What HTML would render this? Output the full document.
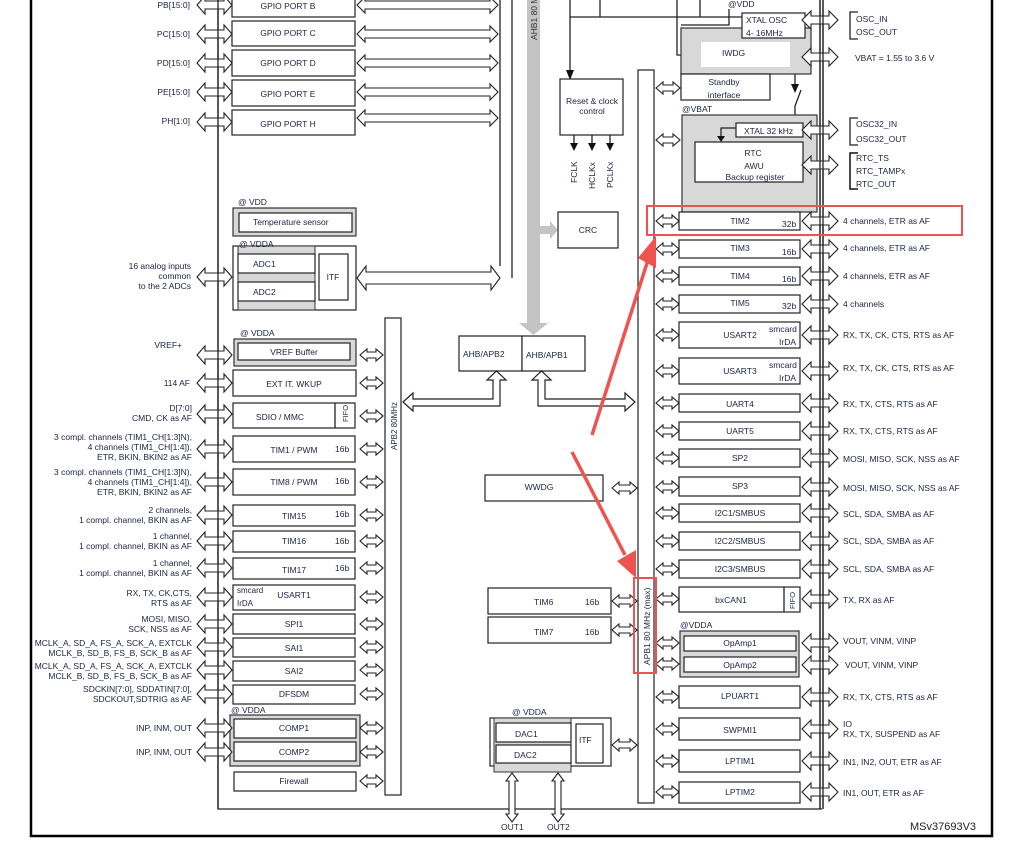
<!DOCTYPE html>
<html><head><meta charset="utf-8"><style>
html,body{margin:0;padding:0;background:#fff;}
svg{display:block;}
text{font-family:"Liberation Sans",Arial,sans-serif;font-size:8.5px;fill:#1b2340;}
.c{text-anchor:middle;}
.r{text-anchor:end;}
.b{fill:#fff;stroke:#222;stroke-width:1.2;}
.g{fill:#d8d8d8;stroke:#333;stroke-width:1.2;}
.ln{stroke:#222;stroke-width:1.3;fill:none;}
</style></head><body>
<svg id="s" width="1021" height="845" viewBox="0 0 1021 845" xmlns="http://www.w3.org/2000/svg">
<path d="M31 0 V836 H992 V0" fill="none" stroke="#000" stroke-width="2.5"/>
<path class="ln" d="M218 0 V809 H822"/>
<path class="ln" d="M820 0 V809 M823 0 V809"/>
<path class="ln" d="M500 0 V266 M512 0 V278"/>
<rect x="527" y="0" width="13" height="323" fill="#c4c4c4"/>
<polygon points="519,323 548,323 533.5,335" fill="#c4c4c4"/>
<rect x="540" y="226" width="10" height="8" fill="#c4c4c4"/>
<polygon points="550,221 558,230 550,239" fill="#c4c4c4"/>
<text transform="translate(537,40) rotate(-90)" style="font-size:8.5px;fill:#333">AHB1 80 MHz</text>

<rect class="b" x="232" y="-3" width="123" height="20"/><text class="c" x="288" y="9">GPIO PORT B</text>
<rect class="b" x="232" y="21" width="123" height="25"/><text class="c" x="288" y="36">GPIO PORT C</text>
<rect class="b" x="232" y="50" width="123" height="26"/><text class="c" x="288" y="66">GPIO PORT D</text>
<rect class="b" x="232" y="80" width="123" height="26"/><text class="c" x="288" y="97">GPIO PORT E</text>
<rect class="b" x="232" y="110" width="123" height="25"/><text class="c" x="288" y="127">GPIO PORT H</text>
<text class="r" x="190" y="8">PB[15:0]</text>
<text class="r" x="190" y="37">PC[15:0]</text>
<text class="r" x="190" y="66">PD[15:0]</text>
<text class="r" x="190" y="95">PE[15:0]</text>
<text class="r" x="190" y="124">PH[1:0]</text>

<text x="238" y="205">@ VDD</text>
<rect class="g" x="233" y="208" width="123" height="28" stroke-width="1.6"/>
<rect class="b" x="239" y="213" width="113" height="19"/><text x="253" y="225">Temperature sensor</text>
<rect class="b" x="233" y="246" width="123" height="64"/>
<rect x="238" y="246" width="77" height="64" fill="#d8d8d8" stroke="#333" stroke-width="1"/>
<rect class="b" x="238" y="254" width="77" height="19"/><text x="253" y="267">ADC1</text>
<rect class="b" x="238" y="282" width="77" height="19"/><text x="253" y="295">ADC2</text>
<rect class="b" x="319" y="254" width="29" height="46"/><text class="c" x="333" y="280">ITF</text>
<text x="239" y="247">@ VDDA</text>
<text class="r" x="191" y="269">16 analog inputs</text>
<text class="r" x="191" y="279">common</text>
<text class="r" x="191" y="289">to the 2 ADCs</text>

<text x="240" y="336">@ VDDA</text>
<rect class="g" x="234" y="339" width="122" height="27" stroke-width="1.6"/>
<rect class="b" x="238" y="343" width="112" height="17"/><text class="c" x="294" y="355">VREF Buffer</text>
<rect class="b" x="233" y="370" width="123" height="26"/><text class="c" x="294" y="387">EXT IT. WKUP</text>
<rect class="b" x="233" y="403" width="122" height="25"/><line class="ln" x1="335" y1="403" x2="335" y2="428"/>
<text class="c" x="280" y="420">SDIO / MMC</text><text transform="translate(348,422) rotate(-90)" style="font-size:7.5px">FIFO</text>
<rect class="b" x="233" y="436" width="122" height="26"/><text class="c" x="294" y="453">TIM1 / PWM</text><text x="335" y="452">16b</text>
<rect class="b" x="233" y="469" width="122" height="26"/><text class="c" x="294" y="485">TIM8 / PWM</text><text x="335" y="484">16b</text>
<rect class="b" x="233" y="505" width="122" height="21"/><text class="c" x="294" y="519">TIM15</text><text x="335" y="517">16b</text>
<rect class="b" x="233" y="531" width="122" height="21"/><text class="c" x="294" y="544">TIM16</text><text x="335" y="544">16b</text>
<rect class="b" x="233" y="558" width="122" height="21"/><text class="c" x="294" y="573">TIM17</text><text x="335" y="571">16b</text>
<rect class="b" x="233" y="585" width="122" height="25"/><text class="c" x="294" y="598">USART1</text><text x="237" y="593" style="font-size:8px">smcard</text><text x="237" y="606" style="font-size:8px">IrDA</text>
<rect class="b" x="233" y="614" width="122" height="20"/><text class="c" x="294" y="627">SPI1</text>
<rect class="b" x="233" y="638" width="122" height="19"/><text class="c" x="294" y="651">SAI1</text>
<rect class="b" x="233" y="661" width="122" height="20"/><text class="c" x="294" y="674">SAI2</text>
<rect class="b" x="233" y="685" width="122" height="19"/><text class="c" x="294" y="697">DFSDM</text>
<text x="231" y="713">@ VDDA</text>
<rect class="g" x="230" y="715" width="130" height="51"/>
<rect class="b" x="234" y="719" width="122" height="19"/><text class="c" x="294" y="731">COMP1</text>
<rect class="b" x="234" y="742" width="122" height="19"/><text class="c" x="294" y="755">COMP2</text>
<rect class="b" x="234" y="772" width="122" height="19"/><text class="c" x="294" y="784">Firewall</text>

<text class="r" x="182" y="348">VREF+</text>
<text class="r" x="190" y="386">114 AF</text>
<text class="r" x="192" y="411">D[7:0]</text>
<text class="r" x="192" y="421">CMD, CK as AF</text>
<text class="r" x="192" y="440">3 compl. channels (TIM1_CH[1:3]N),</text>
<text class="r" x="192" y="450">4 channels (TIM1_CH[1:4]),</text>
<text class="r" x="192" y="460">ETR, BKIN, BKIN2 as AF</text>
<text class="r" x="192" y="475">3 compl. channels (TIM1_CH[1:3]N),</text>
<text class="r" x="192" y="485">4 channels (TIM1_CH[1:4]),</text>
<text class="r" x="192" y="495">ETR, BKIN, BKIN2 as AF</text>
<text class="r" x="192" y="513">2 channels,</text>
<text class="r" x="192" y="523">1 compl. channel, BKIN as AF</text>
<text class="r" x="192" y="539">1 channel,</text>
<text class="r" x="192" y="549">1 compl. channel, BKIN as AF</text>
<text class="r" x="192" y="566">1 channel,</text>
<text class="r" x="192" y="576">1 compl. channel, BKIN as AF</text>
<text class="r" x="192" y="596">RX, TX, CK,CTS,</text>
<text class="r" x="192" y="606">RTS as AF</text>
<text class="r" x="192" y="622">MOSI, MISO,</text>
<text class="r" x="192" y="632">SCK, NSS as AF</text>
<text class="r" x="192" y="646">MCLK_A, SD_A, FS_A, SCK_A, EXTCLK</text>
<text class="r" x="192" y="656">MCLK_B, SD_B, FS_B, SCK_B as AF</text>
<text class="r" x="192" y="669">MCLK_A, SD_A, FS_A, SCK_A, EXTCLK</text>
<text class="r" x="192" y="679">MCLK_B, SD_B, FS_B, SCK_B as AF</text>
<text class="r" x="192" y="692">SDCKIN[7:0], SDDATIN[7:0],</text>
<text class="r" x="192" y="702">SDCKOUT,SDTRIG as AF</text>
<text class="r" x="192" y="731">INP, INM, OUT</text>
<text class="r" x="192" y="755">INP, INM, OUT</text>

<rect class="b" x="385" y="318" width="16" height="477"/>
<text transform="translate(397,450) rotate(-90)" style="font-size:8px">APB2 80MHz</text>
<rect class="b" x="638" y="70" width="16" height="733"/>
<text transform="translate(650,665) rotate(-90)" style="font-size:8.5px">APB1 80 MHz (max)</text>

<path class="ln" d="M570 0 V76 M570 17 H742 M600 0 V17 M700 0 V17 M677 0 V55 H692"/>
<polygon points="566,70 574,70 570,80" fill="#111"/>
<polygon points="690,51 700,55 690,59" fill="#111"/>
<rect class="b" x="560" y="79" width="63" height="56"/>
<text class="c" x="592" y="104">Reset &amp; clock</text><text class="c" x="592" y="114">control</text>
<path class="ln" d="M574 135 V146 M592 135 V146 M610 135 V146"/>
<polygon points="570,143 578,143 574,151" fill="#111"/><polygon points="588,143 596,143 592,151" fill="#111"/><polygon points="606,143 614,143 610,151" fill="#111"/>
<text transform="translate(577,183) rotate(-90)">FCLK</text>
<text transform="translate(595,189) rotate(-90)">HCLKx</text>
<text transform="translate(613,188) rotate(-90)">PCLKx</text>
<rect class="b" x="558" y="212" width="60" height="36"/><text class="c" x="588" y="233">CRC</text>

<rect class="b" x="459" y="336" width="63" height="35"/><text x="463" y="357">AHB/APB2</text>
<rect class="b" x="522" y="336" width="63" height="35"/><text x="526" y="358">AHB/APB1</text>
<polygon class="b" points="403,402 413,393 413,399 493,399 493,380 487,380 496.5,371 506,380 500,380 500,406 413,406 413,411"/>
<polygon class="b" points="635,402 625,393 625,399 545,399 545,380 551,380 541.5,371 532,380 538,380 538,406 625,406 625,411"/>

<rect class="b" x="485" y="475" width="118" height="26"/><text class="c" x="539" y="490">WWDG</text>
<rect class="b" x="488" y="588" width="123" height="26"/><text x="534" y="605">TIM6</text><text x="585" y="605">16b</text>
<rect class="b" x="488" y="617" width="123" height="26"/><text x="534" y="635">TIM7</text><text x="585" y="635">16b</text>
<text x="512" y="715">@ VDDA</text>
<rect class="b" x="490" y="718" width="121" height="48"/>
<rect x="494" y="718" width="77" height="54" fill="#d8d8d8" stroke="#333" stroke-width="1"/>
<rect class="b" x="496" y="723" width="75" height="19"/><text x="515" y="737">DAC1</text>
<rect class="b" x="496" y="745" width="75" height="18"/><text x="514" y="758">DAC2</text>
<rect class="b" x="576" y="724" width="27" height="39"/><text x="579" y="743">ITF</text>
<text x="501" y="830">OUT1</text><text x="547" y="830">OUT2</text>

<text x="728" y="7">@VDD</text>
<rect class="g" x="681" y="28" width="130" height="46"/>
<path class="ln" d="M729 9 V25 H681"/>
<rect class="b" x="742" y="13" width="63" height="25"/><text x="746" y="23">XTAL OSC</text><text x="746" y="36">4- 16MHz</text>
<rect x="701" y="42" width="89" height="25" fill="#fff"/><text x="722" y="56">IWDG</text>
<rect class="b" x="681" y="74" width="89" height="26"/><text class="c" x="724" y="85">Standby</text><text class="c" x="724" y="98">interface</text>
<path class="ln" d="M795 74 V86 M801 90 L795 106 V115"/><polygon points="791,84 799,84 795,93" fill="#111"/>
<text x="682" y="112">@VBAT</text>
<rect class="g" x="682" y="115" width="135" height="97"/>
<rect class="b" x="736" y="123" width="67" height="14"/><text x="744" y="134">XTAL 32 kHz</text>
<path class="ln" d="M736 128 H721 V138"/><polygon points="717,136 725,136 721,142" fill="#111"/>
<rect class="b" x="695" y="142" width="108" height="40"/>
<text class="c" x="753" y="156">RTC</text><text class="c" x="754" y="169">AWU</text><text class="c" x="755" y="180">Backup register</text>

<path class="ln" d="M858 12 H850 V39 H858 M858 118 H850 V145 H858"/>
<path d="M858 153 H850 V189 H858" fill="none" stroke="#111" stroke-width="1.5"/>
<text x="856" y="22">OSC_IN</text><text x="856" y="35">OSC_OUT</text>
<text x="855" y="61">VBAT = 1.55 to 3.6 V</text>
<text x="856" y="127">OSC32_IN</text><text x="856" y="142">OSC32_OUT</text>
<text x="856" y="161">RTC_TS</text><text x="856" y="174">RTC_TAMPx</text><text x="856" y="187">RTC_OUT</text>

<g>
<rect class="b" x="679" y="212" width="121" height="18"/><text class="c" x="740" y="224">TIM2</text><text x="782" y="227">32b</text>
<rect class="b" x="679" y="240" width="121" height="18"/><text class="c" x="740" y="251">TIM3</text><text x="782" y="255">16b</text>
<rect class="b" x="679" y="267" width="121" height="18"/><text class="c" x="740" y="279">TIM4</text><text x="782" y="282">16b</text>
<rect class="b" x="679" y="295" width="121" height="18"/><text class="c" x="740" y="306">TIM5</text><text x="782" y="309">32b</text>
<rect class="b" x="679" y="322" width="121" height="26"/><text class="c" x="740" y="338">USART2</text><text x="769" y="332">smcard</text><text x="779" y="345">IrDA</text>
<rect class="b" x="679" y="358" width="121" height="26"/><text class="c" x="740" y="374">USART3</text><text x="769" y="368">smcard</text><text x="779" y="381">IrDA</text>
<rect class="b" x="679" y="394" width="121" height="18"/><text class="c" x="740" y="407">UART4</text>
<rect class="b" x="679" y="422" width="121" height="18"/><text class="c" x="740" y="434">UART5</text>
<rect class="b" x="679" y="449" width="121" height="18"/><text class="c" x="740" y="461">SP2</text>
<rect class="b" x="679" y="477" width="121" height="19"/><text class="c" x="740" y="489">SP3</text>
<rect class="b" x="679" y="504" width="121" height="18"/><text class="c" x="740" y="516">I2C1/SMBUS</text>
<rect class="b" x="679" y="532" width="121" height="18"/><text class="c" x="740" y="544">I2C2/SMBUS</text>
<rect class="b" x="679" y="560" width="121" height="18"/><text class="c" x="740" y="572">I2C3/SMBUS</text>
<rect class="b" x="679" y="587" width="121" height="25"/><line class="ln" x1="784" y1="587" x2="784" y2="612"/><text class="c" x="731" y="603">bxCAN1</text><text transform="translate(795,609) rotate(-90)" style="font-size:7.5px">FIFO</text>
<text x="680" y="628">@VDDA</text>
<rect class="g" x="680" y="631" width="119" height="46" stroke-width="1.6"/>
<rect class="b" x="684" y="636" width="112" height="15"/><text class="c" x="740" y="646">OpAmp1</text>
<rect class="b" x="684" y="657" width="112" height="15"/><text class="c" x="740" y="668">OpAmp2</text>
<rect class="b" x="679" y="686" width="121" height="22"/><text class="c" x="740" y="699">LPUART1</text>
<rect class="b" x="679" y="718" width="121" height="22"/><text class="c" x="740" y="733">SWPMI1</text>
<rect class="b" x="679" y="750" width="121" height="22"/><text class="c" x="740" y="764">LPTIM1</text>
<rect class="b" x="679" y="782" width="121" height="21"/><text class="c" x="740" y="795">LPTIM2</text>
</g>
<text x="843" y="224">4 channels, ETR as AF</text>
<text x="843" y="251">4 channels, ETR as AF</text>
<text x="843" y="279">4 channels, ETR as AF</text>
<text x="843" y="307">4 channels</text>
<text x="843" y="338">RX, TX, CK, CTS, RTS as AF</text>
<text x="843" y="371">RX, TX, CK, CTS, RTS as AF</text>
<text x="843" y="407">RX, TX, CTS, RTS as AF</text>
<text x="843" y="434">RX, TX, CTS, RTS as AF</text>
<text x="843" y="462">MOSI, MISO, SCK, NSS as AF</text>
<text x="843" y="491">MOSI, MISO, SCK, NSS as AF</text>
<text x="843" y="517">SCL, SDA, SMBA as AF</text>
<text x="843" y="544">SCL, SDA, SMBA as AF</text>
<text x="843" y="572">SCL, SDA, SMBA as AF</text>
<text x="843" y="603">TX, RX as AF</text>
<text x="843" y="644">VOUT, VINM, VINP</text>
<text x="845" y="668">VOUT, VINM, VINP</text>
<text x="843" y="700">RX, TX, CTS, RTS as AF</text>
<text x="843" y="727">IO</text>
<text x="843" y="737">RX, TX, SUSPEND as AF</text>
<text x="843" y="765">IN1, IN2, OUT, ETR as AF</text>
<text x="843" y="796">IN1, OUT, ETR as AF</text>

<text x="910" y="830" style="font-size:11px;fill:#222">MSv37693V3</text>
<g id="arr"></g>
<g id="over"></g>
<rect x="647" y="206" width="315" height="29" fill="none" stroke="#ea5455" stroke-width="2"/>
<rect x="634" y="578" width="22" height="95" fill="none" stroke="#ea5455" stroke-width="2"/>
<line x1="592" y1="435" x2="648" y2="260" stroke="#ef5350" stroke-width="3.5"/>
<polygon points="656,236 656,268 638,258" fill="#ef5350"/>
<line x1="572" y1="452" x2="625" y2="555" stroke="#ef5350" stroke-width="3.5"/>
<polygon points="636,578 617,561 636,550" fill="#ef5350"/>
</svg>
<script>
var NS="http://www.w3.org/2000/svg",g=document.getElementById("arr"),o=document.getElementById("over");
function poly(p){var e=document.createElementNS(NS,"polygon");e.setAttribute("points",p.join(" "));e.setAttribute("fill","#fff");e.setAttribute("stroke","#222");e.setAttribute("stroke-width","1.1");g.appendChild(e);}
function dh(x1,x2,y,H,S,hl){poly([x1,y,x1+hl,y-H,x1+hl,y-S,x2-hl,y-S,x2-hl,y-H,x2,y,x2-hl,y+H,x2-hl,y+S,x1+hl,y+S,x1+hl,y+H]);}
function dv(x,y1,y2,H,S,hl){poly([x,y1,x+H,y1+hl,x+S,y1+hl,x+S,y2-hl,x+H,y2-hl,x,y2,x-H,y2-hl,x-S,y2-hl,x-S,y1+hl,x-H,y1+hl]);}
[5,34,63,92,122,277,355,383,414,449,482,515,541,568,597,624,647,670,694,728,752].forEach(function(y){dh(197,232,y,9,4,8);});
[5,34,63,92,118].forEach(function(y){dh(357,498,y,8,4,8);});
dh(357,500,278,12,6,9);
[355,383,416,449,482,515,541,568,597,624,647,670,694,728,752,781].forEach(function(y){dh(360,383,y,6,3,7);});
[488,601,630,745].forEach(function(y){dh(612,637,y,6,3,7);});
dh(656,680,88,6,3,7);dh(656,680,140,6,3,7);
[221,249,276,304,335,371,403,431,458,487,513,541,569,599,643,664,697,729,761,792].forEach(function(y){dh(656,679,y,6,3,7);});
[221,249,276,304,335,371,403,431,458,487,513,541,569,599,643,665,697,729,761,792,20,57,130,165].forEach(function(y){dh(802,838,y,9,4,9);});
dv(512,773,822,6,3,8);dv(558,773,822,6,3,8);
function ln(d,w){var e=document.createElementNS(NS,"path");e.setAttribute("d",d);e.setAttribute("stroke","#222");e.setAttribute("stroke-width",w||1.3);e.setAttribute("fill","none");o.appendChild(e);}
ln("M218 0 V809");ln("M820 0 V809 M823 0 V809");
</script>
</body></html>
